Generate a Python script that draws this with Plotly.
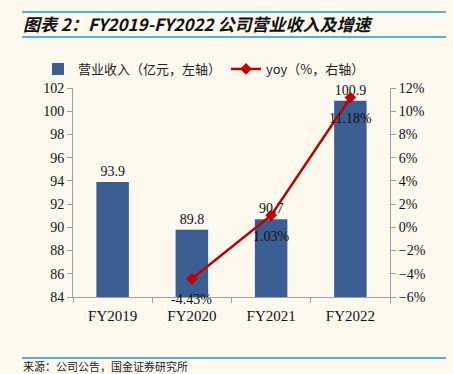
import plotly.graph_objects as go

categories = ["FY2019", "FY2020", "FY2021", "FY2022"]
revenue = [93.9, 89.8, 90.7, 100.9]
yoy = [None, -4.43, 1.03, 11.18]
left_ticks = list(range(84, 103, 2))
right_ticks = [v / 100 for v in range(-6, 13, 2)]

BG = "#FDF9EF"
SERIF = "Liberation Serif, Times New Roman, serif"
CJK = "Noto Sans CJK SC"

fig = go.Figure()
fig.add_trace(go.Bar(
    x=categories, y=revenue, name="营业收入（亿元，左轴）",
    marker=dict(color="#3A5E91", line=dict(width=0)),
    width=0.41,
    text=[f"{v:.1f}" for v in revenue], textposition="outside",
    textfont=dict(family=SERIF, size=14, color="#111"),
    cliponaxis=False,
))
fig.add_trace(go.Scatter(
    x=categories, y=[None if v is None else v / 100 for v in yoy],
    name="yoy（%，右轴）", yaxis="y2", mode="lines+markers",
    line=dict(color="#C00000", width=2.5),
    marker=dict(symbol="diamond", size=9, color="#C00000"),
    cliponaxis=False,
))
for c, v in zip(categories, yoy):
    if v is None:
        continue
    fig.add_annotation(x=c, y=v / 100, xref="x", yref="y2", text=f"{v:.2f}%",
                       showarrow=False, yshift=-21,
                       font=dict(family=SERIF, size=14, color="#111"))

L, R, T, B = 73, 63, 88, 77
W, H = 453, 374
pw, ph = W - L - R, H - T - B

def px(x):
    return (x - L) / pw

def py(y):
    return (H - B - y) / ph

fig.update_layout(
    width=W, height=H,
    margin=dict(l=L, r=R, t=T, b=B),
    paper_bgcolor=BG, plot_bgcolor=BG,
    showlegend=True,
    legend=dict(orientation="h", x=px(38), y=py(54), xanchor="left", yanchor="top",
                font=dict(family=CJK, size=13, color="#222"), bgcolor="rgba(0,0,0,0)",
                itemwidth=30, tracegroupgap=0),
    xaxis=dict(showline=True, linecolor="#A0A0A0", linewidth=1, ticks="outside",
               tickson="boundaries", ticklen=5, tickcolor="#A0A0A0", ticklabelstandoff=5,
               tickfont=dict(family=SERIF, size=15, color="#111"), showgrid=False),
    yaxis=dict(range=[84, 102], tickvals=left_ticks, showline=True, linecolor="#A0A0A0",
               ticks="outside", ticklen=5, tickcolor="#A0A0A0", showgrid=False, zeroline=False,
               tickfont=dict(family=SERIF, size=14, color="#111")),
    yaxis2=dict(range=[-0.06, 0.12], tickvals=right_ticks, tickformat=".0%", overlaying="y",
                side="right", showline=True, linecolor="#A0A0A0", ticks="outside", ticklen=5,
                tickcolor="#A0A0A0", showgrid=False, zeroline=False,
                tickfont=dict(family=SERIF, size=14, color="#111")),
    bargap=0.5,
)

fig.add_annotation(
    xref="paper", yref="paper", x=px(21), y=py(23), xanchor="left", yanchor="middle",
    text="<b><i>图表 2：FY2019-FY2022 公司营业收入及增速</i></b>", showarrow=False,
    font=dict(family=CJK, size=17, color="#111"),
)
fig.add_annotation(
    xref="paper", yref="paper", x=px(21), y=py(366), xanchor="left", yanchor="middle",
    text="来源：公司公告，国金证券研究所", showarrow=False,
    font=dict(family=CJK, size=11, color="#222"),
)
for yy in (12, 37, 358):
    fig.add_shape(type="line", xref="paper", yref="paper", x0=px(22), x1=px(446),
                  y0=py(yy), y1=py(yy), line=dict(color="#4FB3E0", width=2))

fig.write_html("out.html", config={"displayModeBar": False},
               post_script="document.body.style.margin='0';document.body.style.background='#FDF9EF';")
